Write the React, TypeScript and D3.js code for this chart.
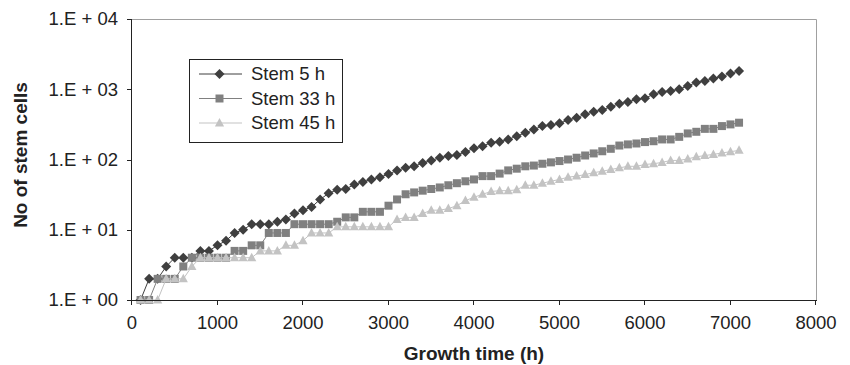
import React from "react";
import * as d3 from "d3";

const times: number[] = d3.range(100, 7101, 100);

const stem5h: number[] = [
  1, 2, 2, 3, 4, 4, 4, 5, 5, 6,
  7, 9, 10, 12, 12, 12, 13, 14, 17, 19,
  21, 27, 33, 37, 38, 44, 48, 52, 56, 62,
  70, 76, 80, 89, 97, 106, 112, 116, 128, 145,
  155, 173, 179, 193, 215, 240, 268, 299, 309, 327,
  365, 394, 439, 480, 507, 565, 624, 659, 720, 744,
  849, 916, 946, 1000, 1116, 1245, 1315, 1420, 1518, 1676,
  1825,
];

const stem33h: number[] = [
  1, 1, 2, 2, 2, 3, 4, 4, 4, 4,
  4, 5, 5, 6, 6, 9, 9, 9, 12, 12,
  12, 12, 12, 13, 15, 15, 18, 18, 18, 22,
  27, 32, 34, 36, 38, 40, 43, 46, 49, 52,
  58, 58, 63, 70, 74, 80, 82, 87, 91, 95,
  100, 106, 114, 122, 131, 142, 158, 164, 169, 177,
  182, 193, 193, 210, 235, 248, 273, 273, 299, 316,
  334,
];

const stem45h: number[] = [
  1, 1, 1, 2, 2, 2, 3, 4, 4, 4,
  4, 4, 4, 4, 5, 5, 5, 6, 6, 7,
  9, 9, 9, 11, 11, 11, 11, 11, 11, 11,
  14, 15, 15, 17, 19, 19, 20, 22, 26, 29,
  32, 35, 36, 36, 37, 43, 43, 46, 49, 52,
  56, 58, 61, 65, 68, 72, 76, 80, 80, 85,
  87, 91, 97, 97, 102, 109, 114, 118, 124, 129,
  135,
];

const seriesNames: string[] = ["Stem 5 h", "Stem 33 h", "Stem 45 h"];
const xTicks: number[] = [0, 1000, 2000, 3000, 4000, 5000, 6000, 7000, 8000];
const yTicks: number[] = [1, 10, 100, 1000, 10000];
const yTickLabels: string[] = ["1.E + 00", "1.E + 01", "1.E + 02", "1.E + 03", "1.E + 04"];

const W = 850;
const H = 365;
const left = 132;
const right = 816;
const top = 19;
const bottom = 300;
const FONT = "Arial, 'Liberation Sans', Helvetica, sans-serif";

const colors = ["#3f3f3f", "#808080", "#c3c3c3"];
const kinds = ["diamond", "square", "triangle"];

function markerPath(kind: string, cx: number, cy: number): string {
  if (kind === "diamond") {
    const r = 5;
    return `M${cx},${cy - r}L${cx + r},${cy}L${cx},${cy + r}L${cx - r},${cy}Z`;
  }
  if (kind === "square") {
    const h = 4;
    return `M${cx - h},${cy - h}H${cx + h}V${cy + h}H${cx - h}Z`;
  }
  const hw = 4.6;
  return `M${cx},${cy - 5}L${cx + hw},${cy + 3.5}L${cx - hw},${cy + 3.5}Z`;
}

export default function App() {
  const x = d3.scaleLinear().domain([0, 8000]).range([left, right]);
  const y = d3.scaleLog().domain([1, 10000]).range([bottom, top]);
  const allSeries = [stem5h, stem33h, stem45h];
  const line = d3
    .line<number>()
    .x((_, i) => x(times[i]))
    .y((d) => y(d));

  const legendX = 189.5;
  const legendY = 59.5;
  const legendRows = [74, 98.5, 123];

  return (
    <svg
      width={W}
      height={H}
      style={{ position: "absolute", left: 0, top: 0, background: "#fff" }}
      fontFamily={FONT}
    >
      <rect x={0} y={0} width={W} height={H} fill="#fff" />
      {/* plot border (top/right light) */}
      <path
        d={`M${left},${top + 0.5}H${right + 0.5}V${bottom}`}
        fill="none"
        stroke="#a0a0a0"
        strokeWidth={1}
      />
      {/* series */}
      {allSeries.map((s, k) => (
        <g key={k}>
          <path d={line(s) || ""} fill="none" stroke={colors[k]} strokeWidth={1} />
          {s.map((v, i) => (
            <path key={i} d={markerPath(kinds[k], x(times[i]), y(v))} fill={colors[k]} />
          ))}
        </g>
      ))}
      {/* axes */}
      <line x1={left - 0.5} x2={left - 0.5} y1={top} y2={bottom + 0.5} stroke="#222" strokeWidth={1} />
      <line x1={left - 0.5} x2={right + 1} y1={bottom + 0.5} y2={bottom + 0.5} stroke="#222" strokeWidth={1} />
      {yTicks.map((t, i) => (
        <g key={t}>
          <line x1={left - 5} x2={left} y1={Math.round(y(t)) + 0.5} y2={Math.round(y(t)) + 0.5} stroke="#222" />
          <text
            x={118}
            y={y(t)}
            dy="0.35em"
            textAnchor="end"
            fontSize={18.5}
            fill="#222"
          >
            {yTickLabels[i]}
          </text>
        </g>
      ))}
      {xTicks.map((t) => (
        <g key={t}>
          <line x1={Math.round(x(t)) - 0.5} x2={Math.round(x(t)) - 0.5} y1={bottom} y2={bottom + 5} stroke="#222" />
          <text x={x(t)} y={329} textAnchor="middle" fontSize={18.5} fill="#222">
            {t}
          </text>
        </g>
      ))}
      <text
        x={(left + right) / 2}
        y={360}
        textAnchor="middle"
        fontSize={19}
        fontWeight="bold"
        fill="#222"
      >
        Growth time (h)
      </text>
      <text
        transform={`translate(27,155) rotate(-90)`}
        textAnchor="middle"
        fontSize={19}
        fontWeight="bold"
        fill="#222"
      >
        No of stem cells
      </text>
      {/* legend */}
      <rect x={legendX} y={legendY} width={153} height={83} fill="#fff" stroke="#222" strokeWidth={1} />
      {seriesNames.map((name, k) => (
        <g key={name}>
          <line x1={199} x2={242} y1={legendRows[k]} y2={legendRows[k]} stroke={colors[k]} strokeWidth={1} />
          <path d={markerPath(kinds[k], 219.5, legendRows[k])} fill={colors[k]} />
          <text x={251} y={legendRows[k]} dy="0.35em" fontSize={18.5} fill="#222">
            {name}
          </text>
        </g>
      ))}
    </svg>
  );
}
